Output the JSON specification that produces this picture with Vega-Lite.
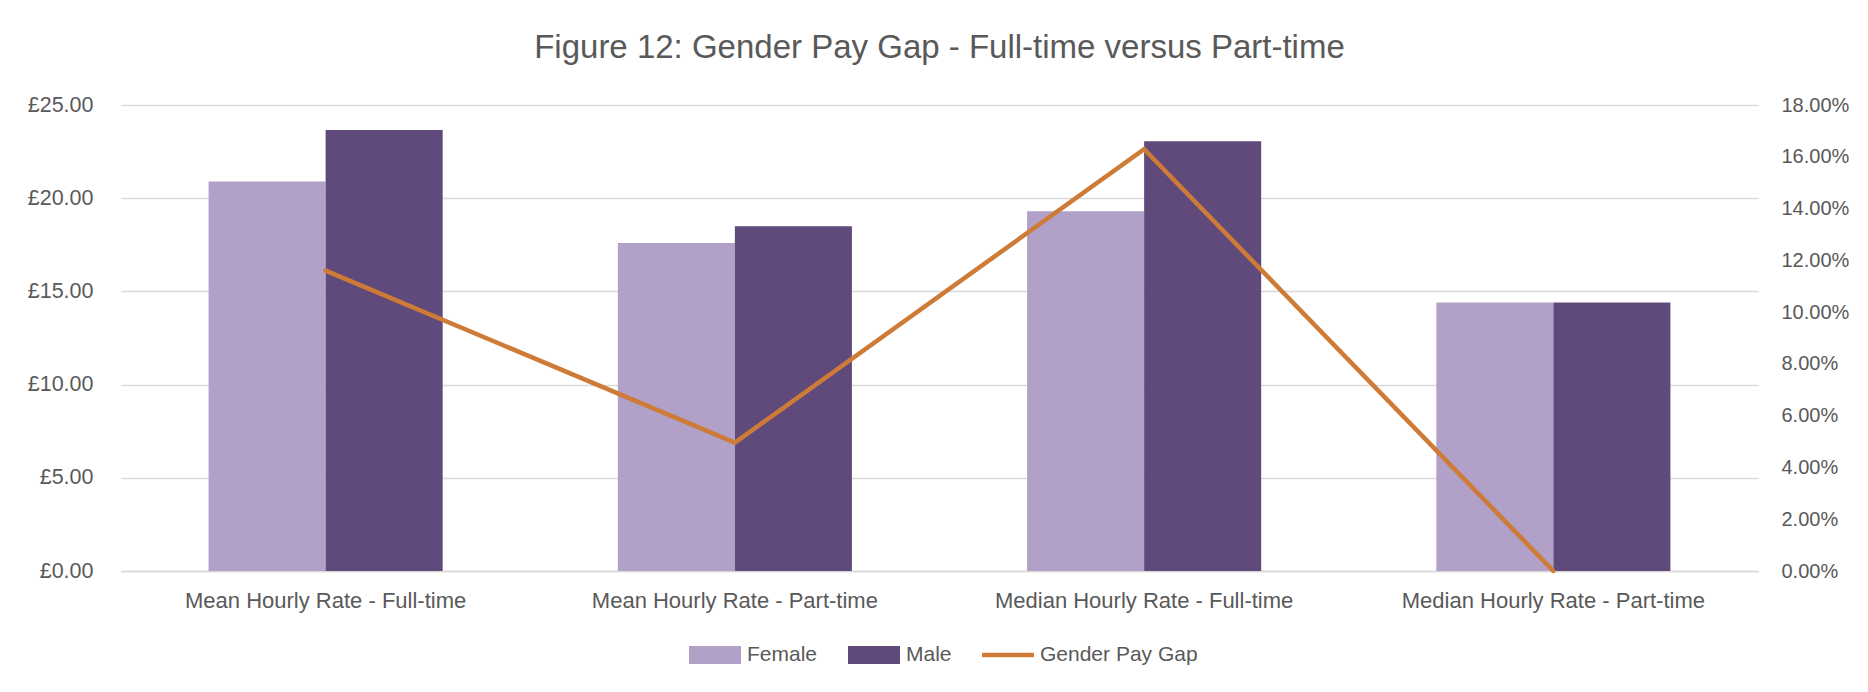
{
  "$schema": "https://vega.github.io/schema/vega-lite/v6.json",
  "autosize": {"type": "none"},
  "width": 1637,
  "height": 466,
  "padding": {"left": 121, "top": 105, "right": 110, "bottom": 121},
  "background": "white",
  "title": {
    "text": "Figure 12: Gender Pay Gap - Full-time versus Part-time",
    "fontSize": 33,
    "font": "Liberation Sans",
    "fontWeight": "normal",
    "color": "#595959",
    "anchor": "middle",
    "offset": 29
  },
  "datasets": {
    "bars": [
      {"category": "Mean Hourly Rate - Full-time", "series": "Female", "value": 20.89},
      {"category": "Mean Hourly Rate - Full-time", "series": "Male", "value": 23.66},
      {"category": "Mean Hourly Rate - Part-time", "series": "Female", "value": 17.6},
      {"category": "Mean Hourly Rate - Part-time", "series": "Male", "value": 18.49},
      {"category": "Median Hourly Rate - Full-time", "series": "Female", "value": 19.3},
      {"category": "Median Hourly Rate - Full-time", "series": "Male", "value": 23.05},
      {"category": "Median Hourly Rate - Part-time", "series": "Female", "value": 14.41},
      {"category": "Median Hourly Rate - Part-time", "series": "Male", "value": 14.41}
    ],
    "gap": [
      {"category": "Mean Hourly Rate - Full-time", "gap": 0.116},
      {"category": "Mean Hourly Rate - Part-time", "gap": 0.0496},
      {"category": "Median Hourly Rate - Full-time", "gap": 0.1629},
      {"category": "Median Hourly Rate - Part-time", "gap": 0.0}
    ]
  },
  "config": {
    "font": "Liberation Sans",
    "view": {"stroke": null},
    "axis": {
      "labelFont": "Liberation Sans",
      "labelColor": "#595959",
      "labelFontSize": 20,
      "ticks": false,
      "domain": false,
      "gridColor": "#D9D9D9",
      "gridWidth": 1.5,
      "title": null
    }
  },
  "layer": [
    {
      "data": {"name": "bars"},
      "mark": {"type": "bar"},
      "encoding": {
        "x": {
          "field": "category",
          "type": "nominal",
          "sort": ["Mean Hourly Rate - Full-time", "Mean Hourly Rate - Part-time", "Median Hourly Rate - Full-time", "Median Hourly Rate - Part-time"],
          "scale": {"paddingInner": 0.428, "paddingOuter": 0.214},
          "axis": {
            "labelAngle": 0,
            "labelPadding": 19,
            "labelFontSize": 22,
            "domain": true,
            "domainColor": "#D9D9D9",
            "domainWidth": 1.5,
            "grid": false,
            "labelLimit": 400
          }
        },
        "xOffset": {"field": "series", "type": "nominal", "sort": ["Female", "Male"], "scale": {"paddingInner": 0, "paddingOuter": 0}},
        "y": {
          "field": "value",
          "type": "quantitative",
          "scale": {"domain": [0, 25], "nice": false},
          "axis": {
            "values": [0, 5, 10, 15, 20, 25],
            "labelExpr": "'£' + format(datum.value, '.2f')",
            "labelPadding": 28,
            "labelFontSize": 21.5,
            "grid": true
          }
        },
        "color": {
          "field": "series",
          "type": "nominal",
          "scale": {
            "domain": ["Female", "Male", "Gender Pay Gap"],
            "range": ["#B1A0C7", "#604A7B", "#CD7B37"]
          },
          "legend": {
            "title": null,
            "orient": "none",
            "legendX": 568,
            "legendY": 524,
            "direction": "horizontal",
            "labelFontSize": 21,
            "labelColor": "#595959",
            "labelFont": "Liberation Sans",
            "labelOffset": 6,
            "columnPadding": 30,
            "symbolSize": 2704,
            "encode": {
              "symbols": {
                "update": {
                  "shape": {"signal": "datum.label === 'Gender Pay Gap' ? 'M-1,-0.085H1V0.085H-1Z' : 'M-1,-0.35H1V0.35H-1Z'"},
                  "fill": {"scale": "color", "field": "value"},
                  "stroke": {"value": "transparent"},
                  "strokeWidth": {"value": 0},
                  "opacity": {"value": 1}
                }
              }
            }
          }
        }
      }
    },
    {
      "data": {"name": "gap"},
      "mark": {"type": "line", "strokeWidth": 4.5, "strokeCap": "round", "strokeJoin": "miter"},
      "encoding": {
        "x": {
          "field": "category",
          "type": "nominal",
          "sort": ["Mean Hourly Rate - Full-time", "Mean Hourly Rate - Part-time", "Median Hourly Rate - Full-time", "Median Hourly Rate - Part-time"]
        },
        "y": {
          "field": "gap",
          "type": "quantitative",
          "scale": {"domain": [0, 0.18], "nice": false},
          "axis": {
            "orient": "right",
            "values": [0, 0.02, 0.04, 0.06, 0.08, 0.1, 0.12, 0.14, 0.16, 0.18],
            "format": ".2%",
            "labelPadding": 23,
            "grid": false
          }
        },
        "color": {"datum": "Gender Pay Gap"}
      }
    }
  ],
  "resolve": {"scale": {"y": "independent"}}
}
